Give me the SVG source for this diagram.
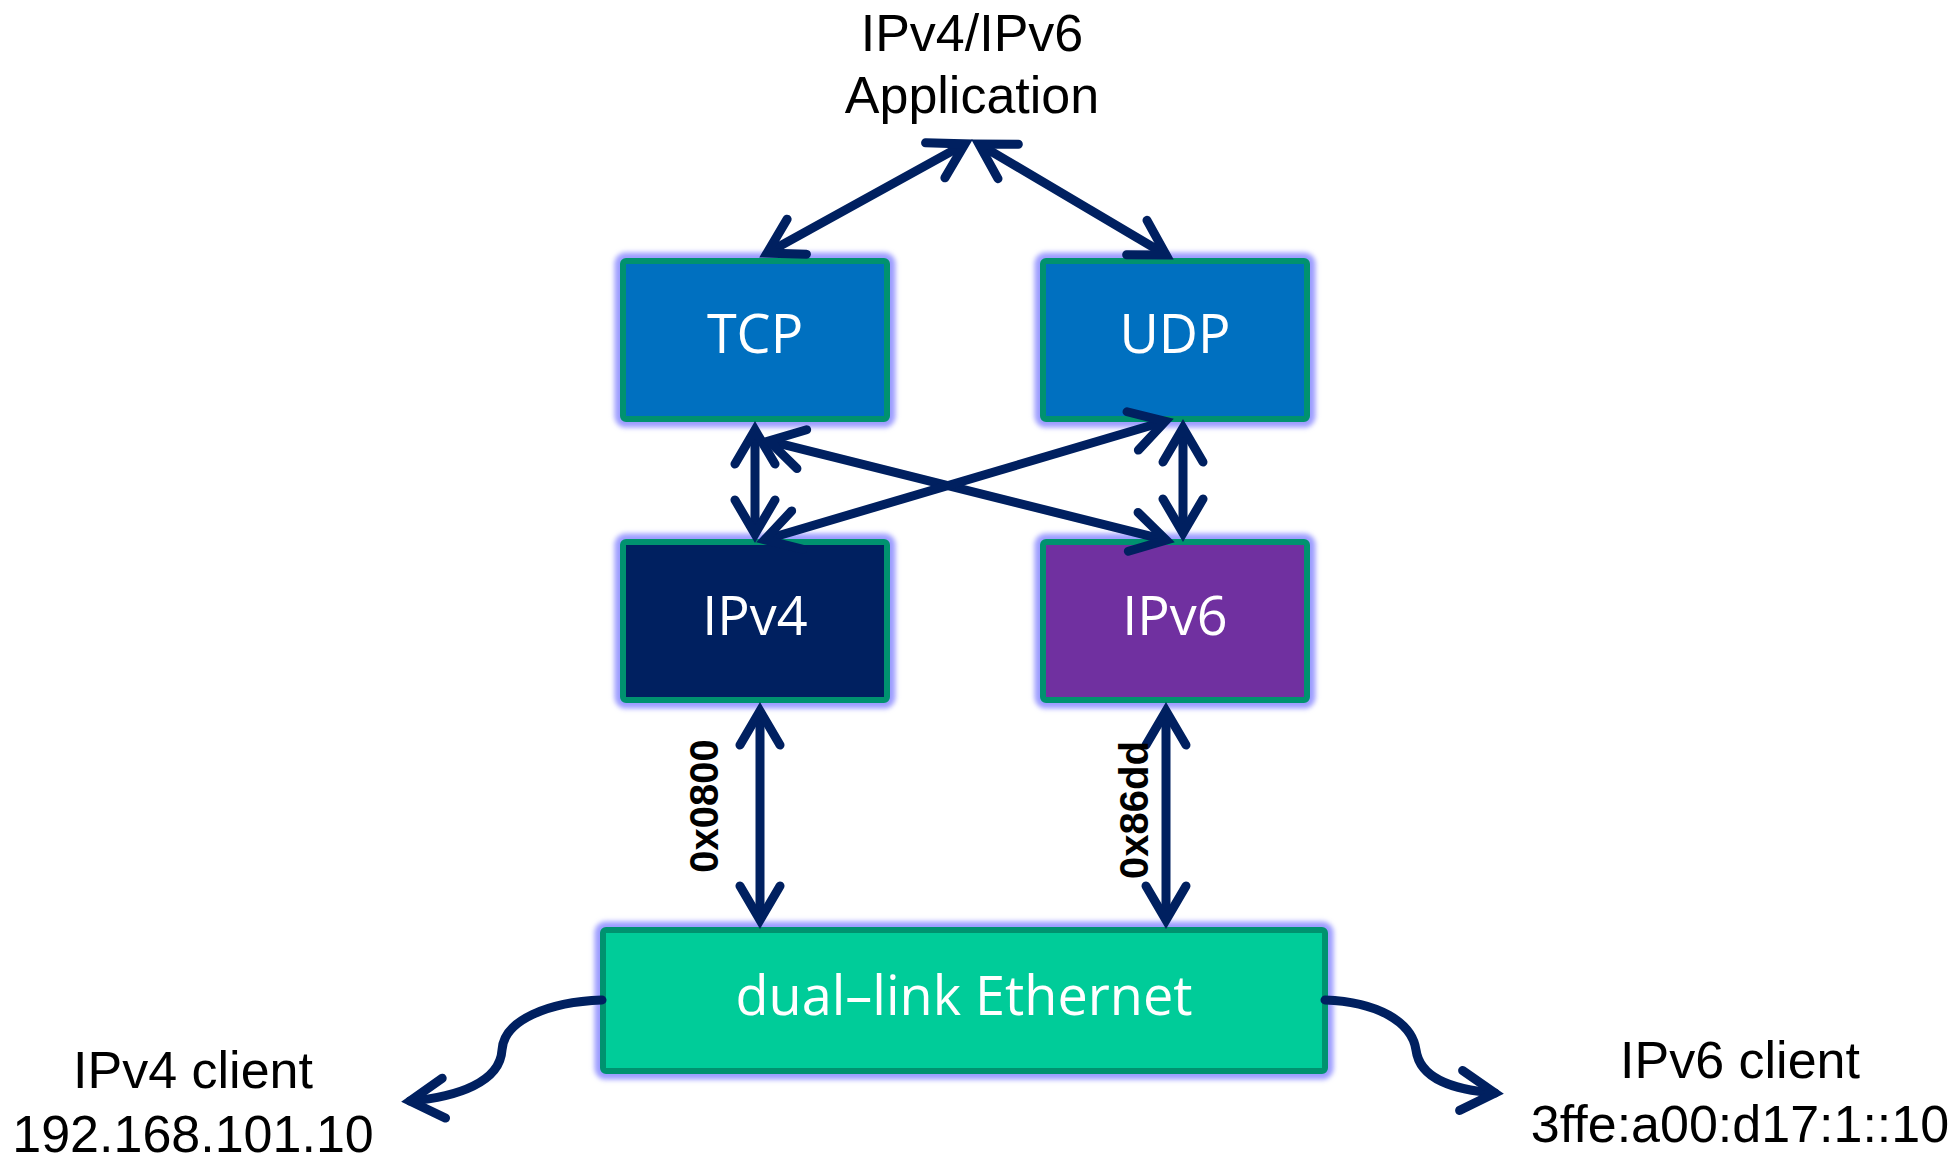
<svg xmlns="http://www.w3.org/2000/svg" width="1954" height="1160" viewBox="0 0 1954 1160">
<style>
.glow{fill:none;stroke:#9c9cff;stroke-width:17;filter:url(#blur)}
.box{stroke:#00926f;stroke-width:6}
.lbl{font-family:"Open Sans","Noto Sans","DejaVu Sans",sans-serif;font-size:54px;fill:#ffffff;text-anchor:middle}
.txt{font-family:"Liberation Sans",Arial,sans-serif;font-size:52px;fill:#000000;text-anchor:middle}
.hex{font-family:"Liberation Sans",Arial,sans-serif;font-size:40px;font-weight:bold;fill:#000000;text-anchor:middle}
.con{fill:none;stroke:#002060;stroke-width:9;marker-start:url(#ah);marker-end:url(#ah)}
.one{fill:none;stroke:#002060;stroke-width:9;stroke-linecap:round;marker-end:url(#ah)}
</style>
<defs>
<filter id="blur" x="-10%" y="-10%" width="120%" height="120%"><feGaussianBlur stdDeviation="2.5"/></filter>
<marker id="ah" markerUnits="userSpaceOnUse" orient="auto-start-reverse" refX="0" refY="0" markerWidth="60" markerHeight="60" viewBox="-50 -30 60 60" overflow="visible">
<path d="M-34,-20 L0,0 L-34,20" fill="none" stroke="#002060" stroke-width="9" stroke-linecap="round" stroke-linejoin="miter" stroke-miterlimit="10"/>
</marker>
</defs>
<rect width="1954" height="1160" fill="#ffffff"/>

<g id="app">
<text class="txt" x="972" y="51">IPv4/IPv6</text>
<text class="txt" x="972" y="113">Application</text>
</g>

<g id="tcp">
<rect class="glow" x="623" y="261" width="264" height="158" rx="3"/>
<rect class="box" x="623" y="261" width="264" height="158" rx="3" fill="#0070c0"/>
<text class="lbl" x="755" y="353">TCP</text>
</g>

<g id="udp">
<rect class="glow" x="1043" y="261" width="264" height="158" rx="3"/>
<rect class="box" x="1043" y="261" width="264" height="158" rx="3" fill="#0070c0"/>
<text class="lbl" x="1175" y="353">UDP</text>
</g>

<g id="ipv4">
<rect class="glow" x="623" y="542" width="264" height="158" rx="3"/>
<rect class="box" x="623" y="542" width="264" height="158" rx="3" fill="#002060"/>
<text class="lbl" x="755" y="635">IPv4</text>
</g>

<g id="ipv6">
<rect class="glow" x="1043" y="542" width="264" height="158" rx="3"/>
<rect class="box" x="1043" y="542" width="264" height="158" rx="3" fill="#7030a0"/>
<text class="lbl" x="1175" y="635">IPv6</text>
</g>

<g id="ethernet">
<rect class="glow" x="603" y="930" width="722" height="141" rx="3"/>
<rect class="box" x="603" y="930" width="722" height="141" rx="3" fill="#00cc99"/>
<text class="lbl" x="964" y="1015">dual–link Ethernet</text>
</g>

<g id="ipv4client">
<text class="txt" x="193" y="1088">IPv4 client</text>
<text class="txt" x="193" y="1152">192.168.101.10</text>
</g>

<g id="ipv6client">
<text class="txt" x="1740" y="1078">IPv6 client</text>
<text class="txt" x="1740" y="1142">3ffe:a00:d17:1::10</text>
</g>

<g id="connectors">
<path class="con" d="M965,143.9 L767,253.1"/>
<path class="con" d="M978.9,144.1 L1166.1,254.9"/>
<path class="con" d="M755,430 L755,534"/>
<path class="con" d="M1183,428 L1183,533"/>
<path class="con" d="M768.8,440.9 L1166.2,540.1"/>
<path class="con" d="M764.7,539.7 L1165.3,421.3"/>
<path class="con" d="M760,711 L760,920"/>
<path class="con" d="M1166,711 L1166,920"/>
<path class="one" d="M602,1000 C548,1002 504,1020 502,1050 C500,1082 458,1097 410,1101"/>
<path class="one" d="M1325,1000 C1378,1002 1412,1022 1416,1050 C1420,1080 1455,1090 1495,1093"/>
<text class="hex" x="718" y="806" transform="rotate(-90 718 806)">0x0800</text>
<text class="hex" x="1148" y="810" transform="rotate(-90 1148 810)">0x86dd</text>
</g>
</svg>
